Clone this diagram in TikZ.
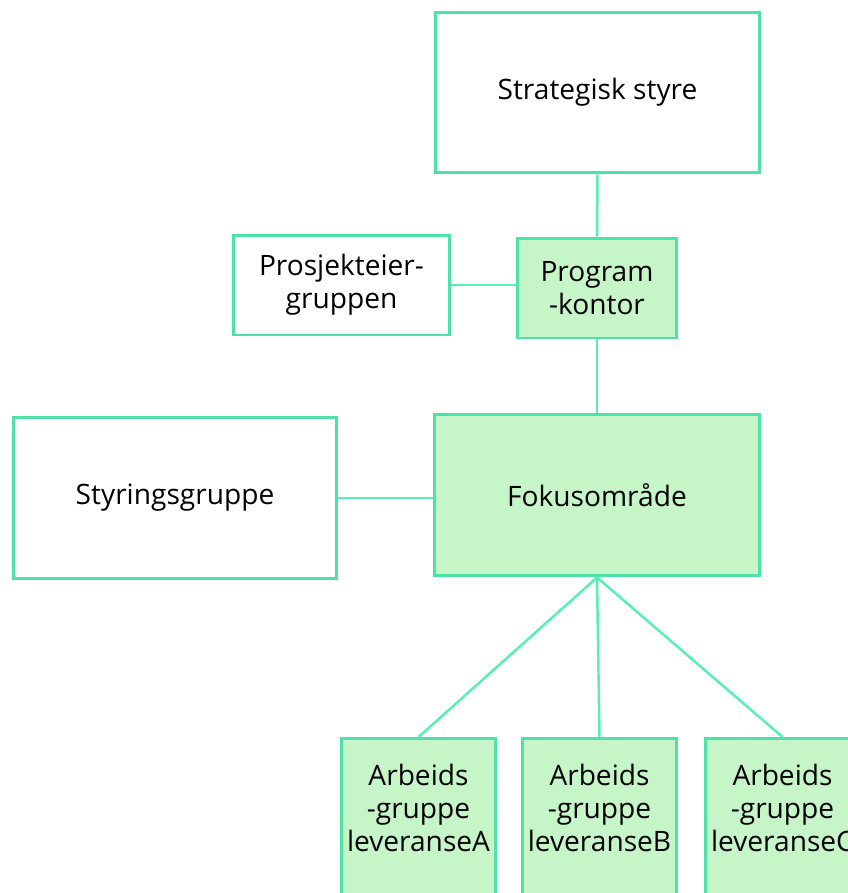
\documentclass[tikz,border=0pt]{standalone}
\usepackage{fontspec}
\setmainfont{Open Sans}
\usepackage{tikz}
\usetikzlibrary{positioning}
\definecolor{kant}{HTML}{4DE3A6}
\definecolor{strek}{HTML}{55F0B6}
\definecolor{fyll}{HTML}{C6F6C8}

\begin{document}
\begin{tikzpicture}[x=0.02cm, y=-0.02cm,
    boks/.style={draw=kant, line width=1.7pt, rectangle, align=center, inner sep=0pt,
        font=\fontsize{16}{19}\selectfont},
    hvit/.style={boks, fill=white},
    gronn/.style={boks, fill=fyll},
    tekst/.style={align=center, inner sep=0pt, font=\fontsize{16}{19}\selectfont},
    linje/.style={draw=strek, line width=1.4pt}]
    \useasboundingbox (0,0) rectangle (848,893);
    \clip (0,0) rectangle (848,893);

    % Top level
    \node[hvit, minimum width=6.48cm, minimum height=3.22cm] (strategi) at (597.5,92.5) {Strategisk styre};
    \node[gronn, minimum width=3.18cm, minimum height=2cm] (kontor) at (597,288) {Program\\-kontor};
    \node[hvit, minimum width=4.34cm, minimum height=2cm] (eier) at (341.5,285) {Prosjekteier-\\gruppen};

    % Middle level
    \node[gronn, minimum width=6.5cm, minimum height=3.24cm] (fokus) at (597,495) {Fokusområde};
    \node[hvit, minimum width=6.48cm, minimum height=3.24cm] (styring) at (175,498) {Styringsgruppe};

    % Working groups (boxes run past the bottom edge)
    \foreach \navn/\x in {A/418.5, B/599.5, C/782.5} {
        \node[gronn, anchor=north, minimum width=3.1cm, minimum height=4cm] (gruppe\navn) at (\x,737) {};
        \node[tekst] (tekst\navn) at (\x,808) {Arbeids\\-gruppe\\leveranse\navn};
    }

    % Connectors
    \draw[linje] (strategi.south) -- (kontor.north);
    \draw[linje] (kontor.south) -- (fokus.north);
    \draw[linje] (eier.east) -- (eier.east -| kontor.west);
    \draw[linje] (styring.east) -- (styring.east -| fokus.west);
    \foreach \navn in {A,B,C}
        \draw[linje] (fokus.south) -- (gruppe\navn.north);
\end{tikzpicture}
\end{document}
